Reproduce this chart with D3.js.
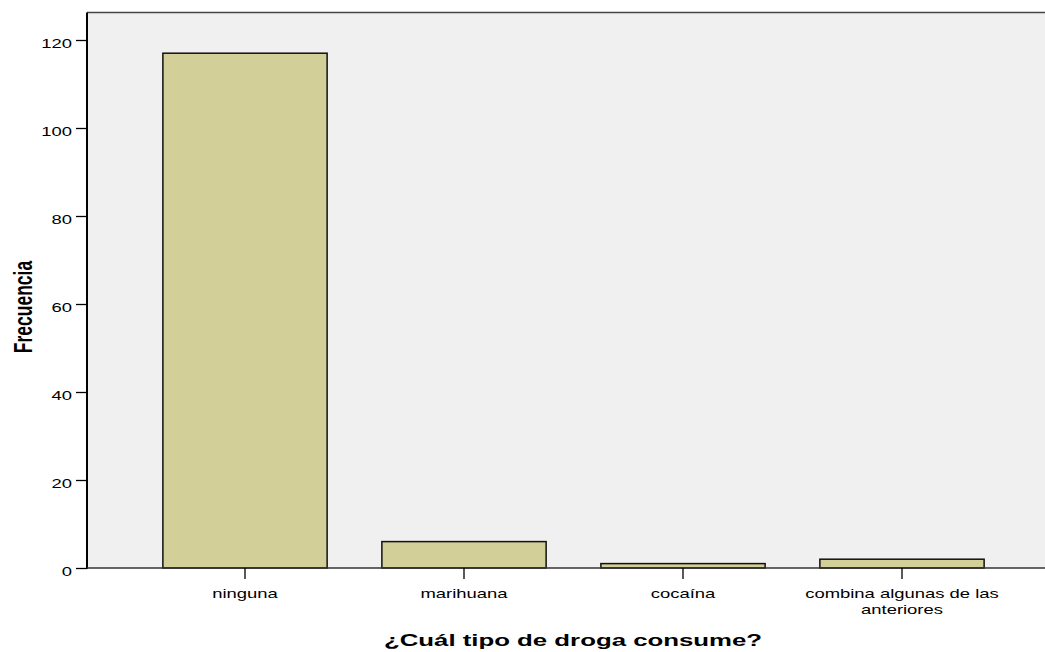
<!DOCTYPE html>
<html>
<head>
<meta charset="utf-8">
<script src="https://cdn.jsdelivr.net/npm/d3@7"></script>
<style>
  html, body { margin: 0; padding: 0; background: #fff; }
  svg { display: block; }
  text { font-family: "Liberation Sans", Arial, sans-serif; fill: #000; }
</style>
</head>
<body>
<svg id="chart" width="1045" height="652"></svg>
<script>
const categories = ["ninguna", "marihuana", "cocaína", "combina algunas de las anteriores"];
const categoryLines = [["ninguna"], ["marihuana"], ["cocaína"], ["combina algunas de las", "anteriores"]];
const values = [117, 6, 1, 2];
const yTicks = [0, 20, 40, 60, 80, 100, 120];
const yTitle = "Frecuencia";
const xTitle = "¿Cuál tipo de droga consume?";

const svg = d3.select("#chart");
const plotLeft = 87, plotTop = 12.5, plotBottom = 568, plotRight = 1046;
const stretch = 1.5;

const x = d3.scaleBand().domain(categories).range([135.5, 1011.5])
  .paddingInner(0.25).paddingOuter(0.125);
const y = d3.scaleLinear().domain([0, 120]).range([plotBottom, 40]);

// plot background
svg.append("rect")
  .attr("x", plotLeft).attr("y", plotTop)
  .attr("width", plotRight - plotLeft).attr("height", plotBottom - plotTop)
  .attr("fill", "#f0f0f0");

// top border
svg.append("line")
  .attr("x1", plotLeft).attr("x2", plotRight)
  .attr("y1", plotTop).attr("y2", plotTop)
  .attr("stroke", "#444").attr("stroke-width", 1.5);

// bars
svg.append("g").selectAll("rect").data(values).join("rect")
  .attr("x", (d, i) => x(categories[i]))
  .attr("y", d => y(d))
  .attr("width", x.bandwidth())
  .attr("height", d => y(0) - y(d))
  .attr("fill", "#d3cf98")
  .attr("stroke", "#111")
  .attr("stroke-width", 1.5);

// y axis
const yAxis = svg.append("g").attr("transform", `translate(${plotLeft},0)`)
  .call(d3.axisLeft(y).tickValues(yTicks).tickSize(11).tickFormat(d3.format("d")));
yAxis.select(".domain").attr("stroke", "#000").attr("stroke-width", 2)
  .attr("d", `M0,${plotTop}V${plotBottom + 1}`);
yAxis.selectAll(".tick line").attr("stroke", "#000").attr("stroke-width", 1.3);
yAxis.selectAll(".tick text")
  .attr("x", 0).attr("dy", null).attr("y", 7)
  .attr("text-anchor", "end")
  .attr("transform", `translate(-15,0) scale(${stretch},1)`)
  .attr("font-size", 12.3)
  .attr("font-family", "'Liberation Sans', Arial, sans-serif")
  .attr("fill", "#000");

// x axis
const xAxis = svg.append("g").attr("transform", `translate(0,${plotBottom})`)
  .call(d3.axisBottom(x).tickSize(11).tickFormat(""));
xAxis.select(".domain").attr("stroke", "#333").attr("stroke-width", 1.5)
  .attr("d", `M${plotLeft},0H${plotRight}`);
xAxis.selectAll(".tick line").attr("stroke", "#000").attr("stroke-width", 1.3);
xAxis.selectAll(".tick text").remove();
xAxis.selectAll(".tick").each(function(d, i) {
  const t = d3.select(this).append("text")
    .attr("text-anchor", "middle")
    .attr("transform", `scale(${stretch},1)`)
    .attr("font-size", 12.3)
    .attr("font-family", "'Liberation Sans', Arial, sans-serif")
    .attr("fill", "#000");
  categoryLines[i].forEach((line, j) => {
    t.append("tspan").attr("x", 0).attr("y", 30.5 + j * 15.5).text(line);
  });
});

// titles
svg.append("text")
  .attr("transform", `translate(32,307) scale(${stretch},1) rotate(-90)`)
  .attr("text-anchor", "middle")
  .attr("font-size", 17.5)
  .attr("font-weight", "bold")
  .text(yTitle);

svg.append("text")
  .attr("transform", `translate(573,646) scale(${stretch},1)`)
  .attr("text-anchor", "middle")
  .attr("font-size", 17.2)
  .attr("font-weight", "bold")
  .text(xTitle);
</script>
</body>
</html>
